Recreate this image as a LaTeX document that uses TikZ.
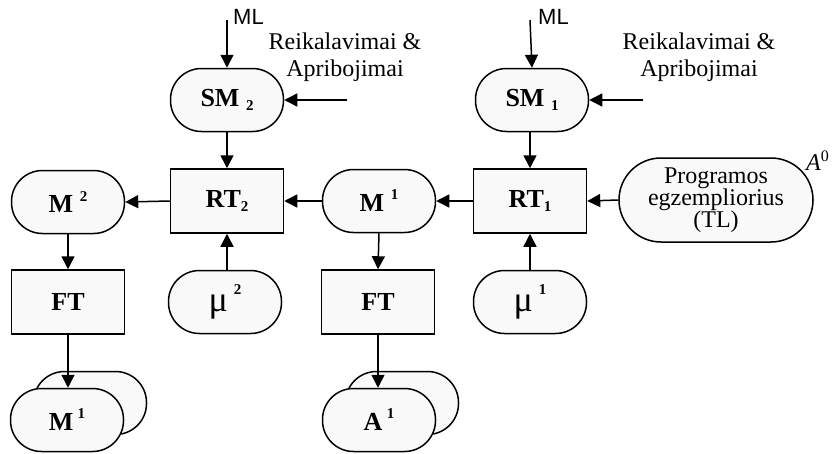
\documentclass[tikz,border=0pt]{standalone}
\usepackage{fontspec}
\setmainfont{Liberation Serif}
\newfontfamily\arialf{Liberation Sans}
\usetikzlibrary{arrows.meta}
\definecolor{nfill}{HTML}{F9F9F9}
\newcommand{\supx}[1]{\raisebox{1.0ex}{\fontsize{15}{15}\selectfont\bfseries #1}}
\newcommand{\subx}[1]{\raisebox{-0.35ex}{\fontsize{15}{15}\selectfont\bfseries #1}}
\begin{document}
\begin{tikzpicture}[x=1pt,y=-1pt,
  base/.style={draw, line width=1.5pt, fill=nfill, inner sep=0pt, font=\fontsize{26}{28}\selectfont\bfseries},
  stad/.style={base, rounded corners=31pt, minimum width=113pt, minimum height=63pt},
  boxn/.style={base, minimum width=113pt, minimum height=64pt},
  arr/.style={line width=1.5pt, -{Triangle[length=13pt,width=13pt]}},
  txt/.style={font=\fontsize{24}{27}\selectfont, align=center, inner sep=0pt}
]
\useasboundingbox (0,0) rectangle (832,453);
% top row
\node[stad] (sm2) at (227,100) {SM \subx{2}};
\node[stad] (sm1) at (532,100) {SM \subx{1}};
\coordinate (ml2) at (227,20);
\coordinate (ml1) at (530,20);
\node[anchor=west, inner sep=0pt, font=\arialf\fontsize{22}{22}\selectfont] (mlt2) at (233,17) {ML};
\node[anchor=west, inner sep=0pt, font=\arialf\fontsize{22}{22}\selectfont] (mlt1) at (538,17) {ML};
\node[txt] (req2) at (345,57) {Reikalavimai \&\\Apribojimai};
\node[txt] (req1) at (699,57) {Reikalavimai \&\\Apribojimai};
\coordinate (r2) at (347,100);
\coordinate (r1) at (643,100);
% middle row
\node[stad] (m2) at (68,202) {M \supx{2}};
\node[boxn] (rt2) at (227,201) {RT\subx{2}};
\node[stad] (m1) at (379,201) {M \supx{1}};
\node[boxn] (rt1) at (530,201) {RT\subx{1}};
\node[base, rounded corners=42pt, minimum width=194pt, minimum height=84pt, font=\fontsize{24}{22}\selectfont, align=center] (prog) at (716,200) {Programos\\egzempliorius\\(TL)};
\node[anchor=base west, inner sep=0pt, font=\fontsize{24}{24}\selectfont] (a0) at (806,170) {\textit{A}\raisebox{0.8ex}{\fontsize{16}{16}\selectfont 0}};
% lower row
\node[boxn] (ft2) at (68,302) {FT};
\node[stad, font=\fontsize{36}{36}\selectfont] (mu2) at (225,302) {μ\,\supx{2}};
\node[boxn] (ft1) at (378,302) {FT};
\node[stad, font=\fontsize{36}{36}\selectfont] (mu1) at (530,302) {μ\,\supx{1}};
% stacked outputs
\node[stad] (m1b) at (90,403) {};
\node[stad] (m1o) at (67,420) {M\,\supx{1}};
\node[stad] (a1b) at (402,403) {};
\node[stad] (a1o) at (379,420) {A\,\supx{1}};
% connectors
\draw[arr] (ml2) -- (sm2.north);
\draw[arr] (ml1) -- (sm1.north);
\draw[arr] (r2) -- (sm2.east);
\draw[arr] (r1) -- (sm1.east);
\draw[arr] (sm2.south) -- (rt2.north);
\draw[arr] (sm1.south -| rt1.north) -- (rt1.north);
\draw[arr] (rt2.west) -- (m2.east);
\draw[arr] (m1.west) -- (rt2.east);
\draw[arr] (rt1.west) -- (m1.east);
\draw[arr] (prog.west) -- (rt1.east);
\draw[arr] (mu2.north -| rt2.south) -- (rt2.south);
\draw[arr] (mu1.north) -- (rt1.south);
\draw[arr] (m2.south) -- (ft2.north);
\draw[arr] (m1.south) -- (ft1.north);
\draw[arr] (ft2.south) -- (m1o.north -| ft2.south);
\draw[arr] (ft1.south) -- (a1o.north -| ft1.south);
\end{tikzpicture}
\end{document}
